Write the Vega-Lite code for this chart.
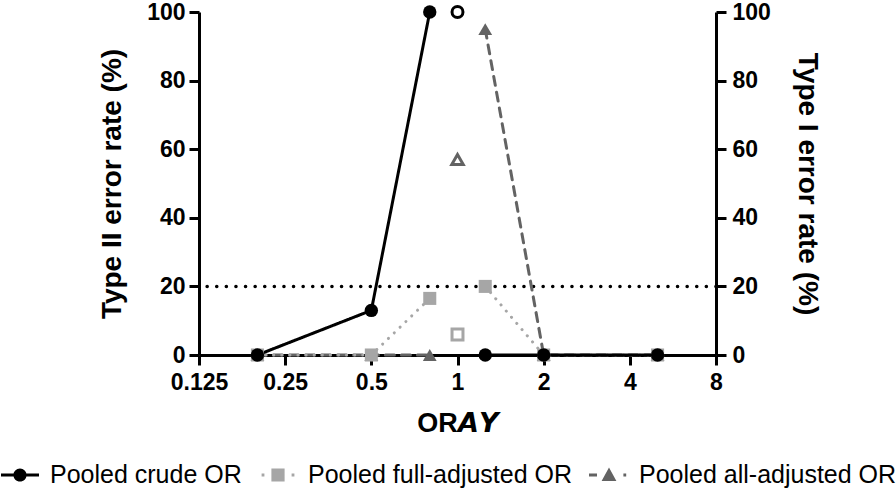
{
  "$schema": "https://vega.github.io/schema/vega-lite/v6.json",
  "width": 517,
  "height": 343,
  "autosize": {"type": "none"},
  "padding": {"left": 199, "top": 12, "right": 180, "bottom": 138},
  "background": "white",
  "config": {
    "view": {"stroke": null},
    "font": "Liberation Sans",
    "axis": {
      "grid": false,
      "domainColor": "black",
      "domainWidth": 3,
      "tickColor": "black",
      "tickWidth": 3,
      "tickSize": 10,
      "labelFont": "Liberation Sans",
      "labelFontWeight": "bold",
      "labelFontSize": 23,
      "labelColor": "black",
      "titleFont": "Liberation Sans",
      "titleFontWeight": "bold",
      "titleColor": "black"
    },
    "legend": {
      "orient": "none", "legendX": -199, "legendY": 443, "direction": "horizontal", "title": null,
      "symbolSize": 1600, "symbolStrokeWidth": 0, "symbolOpacity": 1,
      "labelFont": "Liberation Sans", "labelFontSize": 25, "labelColor": "black", "labelOffset": 10,
      "columnPadding": 16, "padding": 0, "labelLimit": 400
    }
  },
  "data": {
    "values": [
      {"series": "Pooled all-adjusted OR", "x": 0.2, "y": 0, "seg": "a", "type": "II"},
      {"series": "Pooled all-adjusted OR", "x": 0.5, "y": 0, "seg": "a", "type": "II"},
      {"series": "Pooled all-adjusted OR", "x": 0.8, "y": 0, "seg": "a", "type": "II"},
      {"series": "Pooled all-adjusted OR", "x": 1.25, "y": 95, "seg": "b", "type": "II"},
      {"series": "Pooled all-adjusted OR", "x": 2, "y": 0, "seg": "b", "type": "II"},
      {"series": "Pooled all-adjusted OR", "x": 5, "y": 0, "seg": "b", "type": "II"},
      {"series": "Pooled all-adjusted OR", "x": 1, "y": 57, "seg": "c", "type": "I"},
      {"series": "Pooled full-adjusted OR", "x": 0.2, "y": 0, "seg": "a", "type": "II"},
      {"series": "Pooled full-adjusted OR", "x": 0.5, "y": 0, "seg": "a", "type": "II"},
      {"series": "Pooled full-adjusted OR", "x": 0.8, "y": 16.5, "seg": "a", "type": "II"},
      {"series": "Pooled full-adjusted OR", "x": 1.25, "y": 20, "seg": "b", "type": "II"},
      {"series": "Pooled full-adjusted OR", "x": 2, "y": 0, "seg": "b", "type": "II"},
      {"series": "Pooled full-adjusted OR", "x": 5, "y": 0, "seg": "b", "type": "II"},
      {"series": "Pooled full-adjusted OR", "x": 1, "y": 6, "seg": "c", "type": "I"},
      {"series": "Pooled crude OR", "x": 0.2, "y": 0, "seg": "a", "type": "II"},
      {"series": "Pooled crude OR", "x": 0.5, "y": 13, "seg": "a", "type": "II"},
      {"series": "Pooled crude OR", "x": 0.8, "y": 100, "seg": "a", "type": "II"},
      {"series": "Pooled crude OR", "x": 1.25, "y": 0, "seg": "b", "type": "II"},
      {"series": "Pooled crude OR", "x": 2, "y": 0, "seg": "b", "type": "II"},
      {"series": "Pooled crude OR", "x": 5, "y": 0, "seg": "b", "type": "II"},
      {"series": "Pooled crude OR", "x": 1, "y": 100, "seg": "c", "type": "I"}
    ]
  },
  "layer": [
    {
      "encoding": {
        "x": {"field": "x", "type": "quantitative", "scale": {"type": "log", "base": 2, "domain": [0.125, 8], "nice": false},
          "axis": {"values": [0.125, 0.25, 0.5, 1, 2, 4, 8], "labelExpr": "'' + datum.value", "labelPadding": 6, "title": "OR𝘼𝙔", "titleFontSize": 27, "titlePadding": 16, "labelFlush": false}},
        "y": {"field": "y", "type": "quantitative", "scale": {"domain": [0, 100], "nice": false},
          "axis": {"values": [0, 20, 40, 60, 80, 100], "orient": "left", "labelPadding": 4, "title": "Type II error rate (%)", "titleFontSize": 28, "titlePadding": 20}}
      },
      "layer": [
        {
          "data": {"values": [{"threshold": 20}]},
          "mark": {"type": "rule", "color": "black", "strokeWidth": 3.5, "strokeDash": [0.1, 9.5], "strokeCap": "round"},
          "encoding": {
            "x": null,
            "y": {"field": "threshold", "type": "quantitative", "scale": {"domain": [0, 100], "nice": false}, "title": "Type II error rate (%)"}
          }
        },
        {
          "transform": [{"filter": "datum.type === 'II'"}],
          "mark": {"type": "line", "strokeWidth": 3, "strokeCap": "round"},
          "encoding": {
            "color": {"field": "series", "type": "nominal",
              "scale": {"domain": ["Pooled crude OR", "Pooled full-adjusted OR", "Pooled all-adjusted OR"], "range": ["#000000", "#a6a6a6", "#636363"]},
              "legend": {"title": null}},
            "strokeDash": {"field": "series", "type": "nominal",
              "scale": {"domain": ["Pooled crude OR", "Pooled full-adjusted OR", "Pooled all-adjusted OR"], "range": [[1, 0], [0.1, 8], [9, 7]]},
              "legend": {"title": null}},
            "detail": {"field": "seg"},
            "order": {"field": "x", "type": "quantitative"}
          }
        },
        {
          "transform": [{"filter": "datum.type === 'II' && datum.series === 'Pooled all-adjusted OR'"}],
          "mark": {"type": "point", "shape": "triangle-up", "filled": true, "size": 190, "opacity": 1, "color": "#636363"}
        },
        {
          "transform": [{"filter": "datum.type === 'II' && datum.series === 'Pooled full-adjusted OR'"}],
          "mark": {"type": "point", "shape": "square", "filled": true, "size": 170, "opacity": 1, "color": "#a6a6a6"}
        },
        {
          "transform": [{"filter": "datum.type === 'II' && datum.series === 'Pooled crude OR'"}],
          "mark": {"type": "point", "shape": "circle", "filled": true, "size": 180, "opacity": 1, "color": "#000000"}
        },
        {
          "transform": [{"filter": "datum.type === 'legend-only'"}],
          "mark": {"type": "point", "filled": true, "size": 0},
          "encoding": {
            "color": {"field": "series", "type": "nominal",
              "scale": {"domain": ["Pooled crude OR", "Pooled full-adjusted OR", "Pooled all-adjusted OR"], "range": ["#000000", "#a6a6a6", "#636363"]},
              "legend": {"title": null}},
            "shape": {"field": "series", "type": "nominal",
              "scale": {"domain": ["Pooled crude OR", "Pooled full-adjusted OR", "Pooled all-adjusted OR"],
                "range": [
                  "M-0.95,-0.08H-0.3V0.08H-0.95Z M0.3,-0.08H0.95V0.08H0.3Z M0.33,0A0.33,0.33,0,1,1,-0.33,0A0.33,0.33,0,1,1,0.33,0Z",
                  "M-0.33,-0.33H0.33V0.33H-0.33Z M-0.82,-0.07H-0.68V0.07H-0.82Z M0.68,-0.07H0.82V0.07H0.68Z",
                  "M-1,-0.08H-0.6V0.08H-1Z M0,-0.38L0.37,0.3H-0.37Z M0.72,-0.07H0.86V0.07H0.72Z"
                ]},
              "legend": {"title": null}}
          }
        }
      ]
    },
    {
      "encoding": {
        "x": {"field": "x", "type": "quantitative", "scale": {"type": "log", "base": 2, "domain": [0.125, 8], "nice": false}},
        "y": {"field": "y", "type": "quantitative", "scale": {"domain": [0, 100], "nice": false},
          "axis": {"values": [0, 20, 40, 60, 80, 100], "orient": "right", "labelPadding": 6, "title": "Type I error rate (%)", "titleFontSize": 28, "titlePadding": 22}}
      },
      "layer": [
        {
          "transform": [{"filter": "datum.type === 'I' && datum.series === 'Pooled all-adjusted OR'"}],
          "mark": {"type": "point", "shape": "triangle-up", "filled": false, "size": 130, "strokeWidth": 3, "opacity": 1, "color": "#636363"}
        },
        {
          "transform": [{"filter": "datum.type === 'I' && datum.series === 'Pooled full-adjusted OR'"}],
          "mark": {"type": "point", "shape": "square", "filled": false, "size": 120, "strokeWidth": 3, "opacity": 1, "color": "#a6a6a6"}
        },
        {
          "transform": [{"filter": "datum.type === 'I' && datum.series === 'Pooled crude OR'"}],
          "mark": {"type": "point", "shape": "circle", "filled": false, "size": 120, "strokeWidth": 3, "opacity": 1, "color": "#000000"}
        }
      ]
    }
  ],
  "resolve": {"scale": {"y": "independent"}, "axis": {"y": "independent"}}
}
